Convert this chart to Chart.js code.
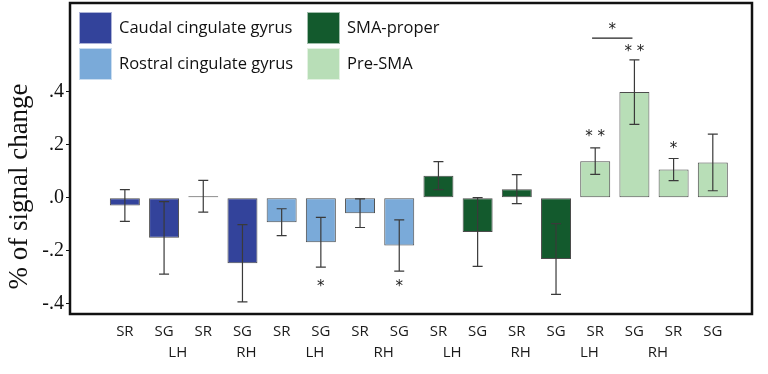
<!DOCTYPE html>
<html lang="en">
<head>
    <meta charset="UTF-8">
    <title>Signal change by region</title>
    <script src="https://cdn.jsdelivr.net/npm/chart.js"></script>
    <style>
        body {
            margin: 0;
            padding: 0;
            background-color: #fff;
        }

        #chart-box {
            width: 768px;
            height: 374px;
        }
    </style>
</head>
<body>
<div id="chart-box">
    <canvas id="chart"></canvas>
</div>

<script>
    // regions and their colours
    var regions = ['Caudal cingulate gyrus', 'Rostral cingulate gyrus', 'SMA-proper', 'Pre-SMA'];
    var regionColors = ['#33439b', '#7aaad9', '#135a2d', '#b8deb7'];

    // bar order inside each region: SR LH, SG LH, SR RH, SG RH
    var conditions = ['SR', 'SG', 'SR', 'SG'];
    var hemispheres = ['LH', 'RH'];
    var yTitle = '% of signal change';

    var meanCaudal = [-0.03, -0.152, 0.005, -0.248];
    var errCaudal = [0.06, 0.137, 0.06, 0.146];
    var meanRostral = [-0.093, -0.169, -0.059, -0.181];
    var errRostral = [0.051, 0.094, 0.054, 0.097];
    var meanSMA = [0.083, -0.13, 0.032, -0.232];
    var errSMA = [0.053, 0.13, 0.055, 0.134];
    var meanPre = [0.138, 0.399, 0.106, 0.133];
    var errPre = [0.05, 0.122, 0.042, 0.107];

    // significance marks (bar index, value where the mark sits, text)
    var starIndex = [5, 7, 12, 13, 14];
    var starValue = [-0.34, -0.34, 0.228, 0.552, 0.184];
    var starText = ['*', '*', '**', '**', '*'];
    var bracketFrom = 11.92, bracketTo = 12.95, bracketValue = 0.603, bracketStarValue = 0.634;

    var yTicks = [-0.4, -0.2, 0, 0.2, 0.4];

    var means = [meanCaudal, meanRostral, meanSMA, meanPre];
    var errs = [errCaudal, errRostral, errSMA, errPre];

    var barCount = regions.length * conditions.length;
    var tickPositions = [];
    for (var i = 0; i < barCount; i++) tickPositions.push(i);
    var hemiPositions = [];
    for (var i = 0; i < barCount; i += 2) hemiPositions.push(i + 0.5);

    var datasets = regions.map(function (name, k) {
        return {
            label: name,
            data: means[k].map(function (v, j) {
                return {x: k * conditions.length + j, y: v};
            }),
            errors: errs[k],
            backgroundColor: regionColors[k],
            borderColor: 'rgba(45, 45, 45, 0.85)',
            borderWidth: 1,
            borderSkipped: false,
            grouped: false,
            barPercentage: 0.765,
            categoryPercentage: 1.0
        };
    });

    var errorBarPlugin = {
        id: 'errorBars',
        afterDatasetsDraw: function (chart) {
            var ctx = chart.ctx;
            var y = chart.scales.y;
            ctx.save();
            ctx.strokeStyle = '#3a3a3a';
            ctx.lineWidth = 1.2;
            chart.data.datasets.forEach(function (ds, di) {
                var meta = chart.getDatasetMeta(di);
                meta.data.forEach(function (bar, j) {
                    var v = ds.data[j].y;
                    var e = ds.errors[j];
                    var top = y.getPixelForValue(v + e);
                    var bot = y.getPixelForValue(v - e);
                    var cap = 5;
                    ctx.beginPath();
                    ctx.moveTo(bar.x, top);
                    ctx.lineTo(bar.x, bot);
                    ctx.moveTo(bar.x - cap, top);
                    ctx.lineTo(bar.x + cap, top);
                    ctx.moveTo(bar.x - cap, bot);
                    ctx.lineTo(bar.x + cap, bot);
                    ctx.stroke();
                });
            });

            // stars
            var x = chart.scales.x;
            ctx.fillStyle = '#222';
            ctx.font = '15px "DejaVu Sans"';
            ctx.textAlign = 'center';
            ctx.textBaseline = 'middle';
            starIndex.forEach(function (idx, s) {
                var txt = starText[s].split('').join(' ');
                ctx.fillText(txt, x.getPixelForValue(idx), y.getPixelForValue(starValue[s]));
            });

            // bracket between the two Pre-SMA LH bars
            ctx.strokeStyle = '#222';
            ctx.lineWidth = 1.2;
            ctx.beginPath();
            ctx.moveTo(x.getPixelForValue(bracketFrom), y.getPixelForValue(bracketValue));
            ctx.lineTo(x.getPixelForValue(bracketTo), y.getPixelForValue(bracketValue));
            ctx.stroke();
            ctx.fillText('*', x.getPixelForValue((bracketFrom + bracketTo) / 2), y.getPixelForValue(bracketStarValue));
            ctx.restore();
        }
    };

    // frame round the plot plus the rotated y title (sits a bit below centre in the original)
    var framePlugin = {
        id: 'frame',
        afterDraw: function (chart) {
            var a = chart.chartArea;
            var ctx = chart.ctx;
            ctx.save();
            ctx.strokeStyle = '#111';
            ctx.lineWidth = 2.5;
            ctx.strokeRect(a.left, a.top, a.right - a.left, a.bottom - a.top);

            ctx.translate(a.left - 50, a.top + (a.bottom - a.top) * 0.59);
            ctx.rotate(-Math.PI / 2);
            ctx.fillStyle = '#111';
            ctx.font = '27px "Liberation Serif"';
            ctx.textAlign = 'center';
            ctx.textBaseline = 'middle';
            ctx.fillText(yTitle, 0, 0);
            ctx.restore();
        }
    };

    // two-column legend drawn inside the plot frame
    var legendPlugin = {
        id: 'boxLegend',
        afterDraw: function (chart) {
            var a = chart.chartArea;
            var ctx = chart.ctx;
            var boxW = 33, boxH = 32, rowGap = 36, colGap = 228;
            ctx.save();
            ctx.font = '16.5px "Open Sans"';
            ctx.textBaseline = 'middle';
            ctx.textAlign = 'left';
            chart.data.datasets.forEach(function (ds, k) {
                var col = Math.floor(k / 2);
                var row = k % 2;
                var bx = a.left + 9 + col * colGap;
                var by = a.top + 9 + row * rowGap;
                ctx.fillStyle = ds.backgroundColor;
                ctx.fillRect(bx, by, boxW, boxH);
                ctx.strokeStyle = 'rgba(255,255,255,0.6)';
                ctx.lineWidth = 1;
                ctx.strokeRect(bx + 0.5, by + 0.5, boxW - 1, boxH - 1);
                ctx.fillStyle = '#111';
                ctx.fillText(ds.label, bx + boxW + 7, by + boxH / 2);
            });
            ctx.restore();
        }
    };

    var ctx = document.getElementById('chart').getContext('2d');
    new Chart(ctx, {
        type: 'bar',
        data: {datasets: datasets},
        plugins: [errorBarPlugin, framePlugin, legendPlugin],
        options: {
            responsive: true,
            maintainAspectRatio: false,
            animation: false,
            layout: {
                padding: {top: 3, right: 16, left: 0, bottom: 0}
            },
            plugins: {
                legend: {display: false},
                tooltip: {enabled: false}
            },
            scales: {
                x: {
                    type: 'linear',
                    min: -1.4,
                    max: 16,
                    offset: false,
                    grid: {display: false, drawTicks: false},
                    border: {display: false},
                    afterBuildTicks: function (axis) {
                        axis.ticks = tickPositions.map(function (v) { return {value: v}; });
                    },
                    afterFit: function (axis) {
                        axis.height = 27;
                    },
                    ticks: {
                        autoSkip: false,
                        maxRotation: 0,
                        padding: 9,
                        color: '#1a1a1a',
                        font: {family: 'Open Sans', size: 15},
                        callback: function (value) {
                            return conditions[value % conditions.length];
                        }
                    }
                },
                hemi: {
                    type: 'linear',
                    axis: 'x',
                    position: 'bottom',
                    min: -1.4,
                    max: 16,
                    grid: {display: false, drawTicks: false},
                    border: {display: false},
                    afterBuildTicks: function (axis) {
                        axis.ticks = hemiPositions.map(function (v) { return {value: v}; });
                    },
                    afterFit: function (axis) {
                        axis.height = 33;
                    },
                    ticks: {
                        autoSkip: false,
                        maxRotation: 0,
                        padding: 3,
                        color: '#1a1a1a',
                        font: {family: 'Open Sans', size: 15},
                        callback: function (value) {
                            return hemispheres[Math.floor(value / 2) % 2];
                        }
                    }
                },
                y: {
                    min: -0.44,
                    max: 0.736,
                    grid: {drawOnChartArea: false, tickLength: 4, color: '#111'},
                    border: {display: false},
                    afterBuildTicks: function (axis) {
                        axis.ticks = yTicks.map(function (v) { return {value: v}; });
                    },
                    afterFit: function (axis) {
                        axis.width = 70;
                        axis.paddingTop = 0;
                        axis.paddingBottom = 0;
                    },
                    ticks: {
                        padding: 2,
                        color: '#111',
                        font: {family: 'Liberation Serif', size: 20},
                        callback: function (value) {
                            var s = Math.abs(value).toFixed(1).replace(/^0/, '');
                            return value < 0 ? '-' + s : s;
                        }
                    }
                }
            }
        }
    });
</script>
</body>
</html>
